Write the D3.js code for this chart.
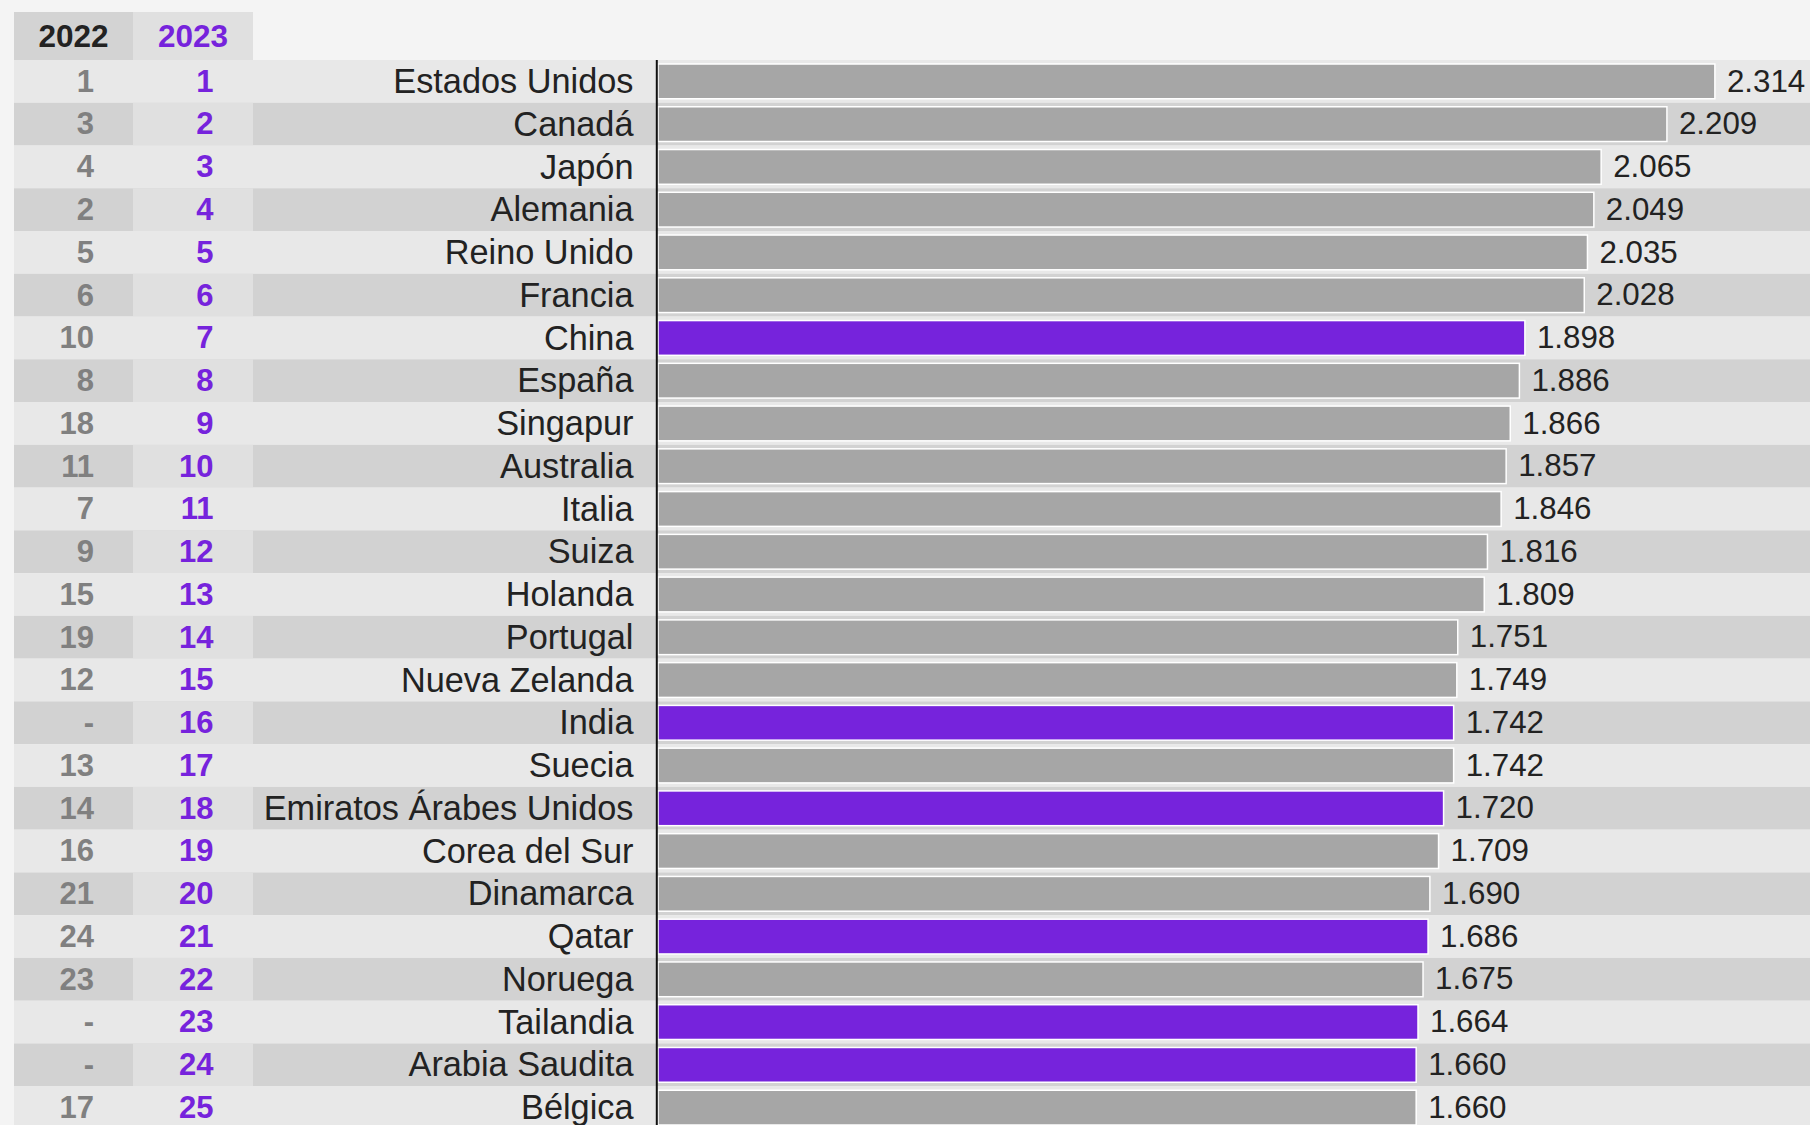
<!DOCTYPE html>
<html>
<head>
<meta charset="utf-8">
<script src="https://cdn.jsdelivr.net/npm/d3@7"></script>
<style>
  html, body { margin: 0; padding: 0; background: #f4f4f4; overflow: hidden; }
  svg { display: block; font-family: "Liberation Sans", Arial, sans-serif; }
</style>
</head>
<body>
<svg id="chart" width="1810" height="1125"></svg>
<script>
const countries = ["Estados Unidos","Canadá","Japón","Alemania","Reino Unido","Francia","China","España","Singapur","Australia","Italia","Suiza","Holanda","Portugal","Nueva Zelanda","India","Suecia","Emiratos Árabes Unidos","Corea del Sur","Dinamarca","Qatar","Noruega","Tailandia","Arabia Saudita","Bélgica"];
const values = [2314,2209,2065,2049,2035,2028,1898,1886,1866,1857,1846,1816,1809,1751,1749,1742,1742,1720,1709,1690,1686,1675,1664,1660,1660];
const rank2022 = ["1","3","4","2","5","6","10","8","18","11","7","9","15","19","12","-","13","14","16","21","24","23","-","-","17"];
const rank2023 = ["1","2","3","4","5","6","7","8","9","10","11","12","13","14","15","16","17","18","19","20","21","22","23","24","25"];
const highlighted = ["China","India","Emiratos Árabes Unidos","Qatar","Tailandia","Arabia Saudita"];
const headers = ["2022","2023"];

const W = 1810, H = 1125;
const PURPLE = "#7623dc", GREY_BAR = "#a6a6a6";
const svg = d3.select("#chart");
const fmt = d3.formatLocale({decimal: ",", thousands: ".", grouping: [3], currency: ["", "€"]}).format(",d");

const rowTop = 60, rowH = 42.76;
const y = d3.scaleBand().domain(countries).range([rowTop, rowTop + countries.length * rowH]).padding(0);
const x = d3.scaleLinear().domain([0, d3.max(values) * 1.09]).range([658, W]);

const left = 14, col1 = 133, col2 = 253;
const data = countries.map((c, i) => ({c, v: values[i], r22: rank2022[i], r23: rank2023[i], i}));

// header
const hdr = svg.append("g");
hdr.append("rect").attr("x", left).attr("y", 12).attr("width", col1 - left).attr("height", 48).attr("fill", "#d3d3d3");
hdr.append("rect").attr("x", col1).attr("y", 12).attr("width", col2 - col1).attr("height", 48).attr("fill", "#e0e0e0");
hdr.selectAll("text").data(headers).join("text")
  .attr("x", (d, i) => i === 0 ? (left + col1) / 2 : (col1 + col2) / 2)
  .attr("y", 47)
  .attr("text-anchor", "middle")
  .attr("font-size", 31.5).attr("font-weight", "bold")
  .attr("fill", (d, i) => i === 0 ? "#222" : PURPLE)
  .text(d => d);

// row stripes
const rows = svg.append("g").selectAll("g").data(data).join("g");
rows.append("rect")
  .attr("x", left).attr("y", d => y(d.c)).attr("width", W - left).attr("height", y.bandwidth())
  .attr("fill", d => d.i % 2 === 0 ? "#e8e8e8" : "#d2d2d2");
rows.filter(d => d.i % 2 === 1).append("rect")
  .attr("x", col1).attr("y", d => y(d.c)).attr("width", col2 - col1).attr("height", y.bandwidth())
  .attr("fill", "#e0e0e0");

rows.append("text")
  .attr("x", 94).attr("y", d => y(d.c) + 31.7)
  .attr("text-anchor", "end").attr("font-size", 31).attr("font-weight", "bold")
  .attr("fill", "#808080").text(d => d.r22);
rows.append("text")
  .attr("x", 213.5).attr("y", d => y(d.c) + 31.7)
  .attr("text-anchor", "end").attr("font-size", 31).attr("font-weight", "bold")
  .attr("fill", PURPLE).text(d => d.r23);
rows.append("text")
  .attr("x", 633.5).attr("y", d => y(d.c) + 33)
  .attr("text-anchor", "end").attr("font-size", 34.3)
  .attr("fill", "#222").text(d => d.c);

// bars
rows.append("rect")
  .attr("x", x(0)).attr("y", d => y(d.c) + 4)
  .attr("width", d => x(d.v) - x(0)).attr("height", y.bandwidth() - 8)
  .attr("fill", d => highlighted.includes(d.c) ? PURPLE : GREY_BAR)
  .attr("stroke", "#ffffff").attr("stroke-width", 1.5);
rows.append("text")
  .attr("x", d => x(d.v) + 12).attr("y", d => y(d.c) + 31.5)
  .attr("font-size", 31.3).attr("fill", "#222")
  .text(d => fmt(d.v));

// axis line
svg.append("line")
  .attr("x1", 656.8).attr("x2", 656.8).attr("y1", rowTop).attr("y2", H)
  .attr("stroke", "#111").attr("stroke-width", 2);
</script>
</body>
</html>
